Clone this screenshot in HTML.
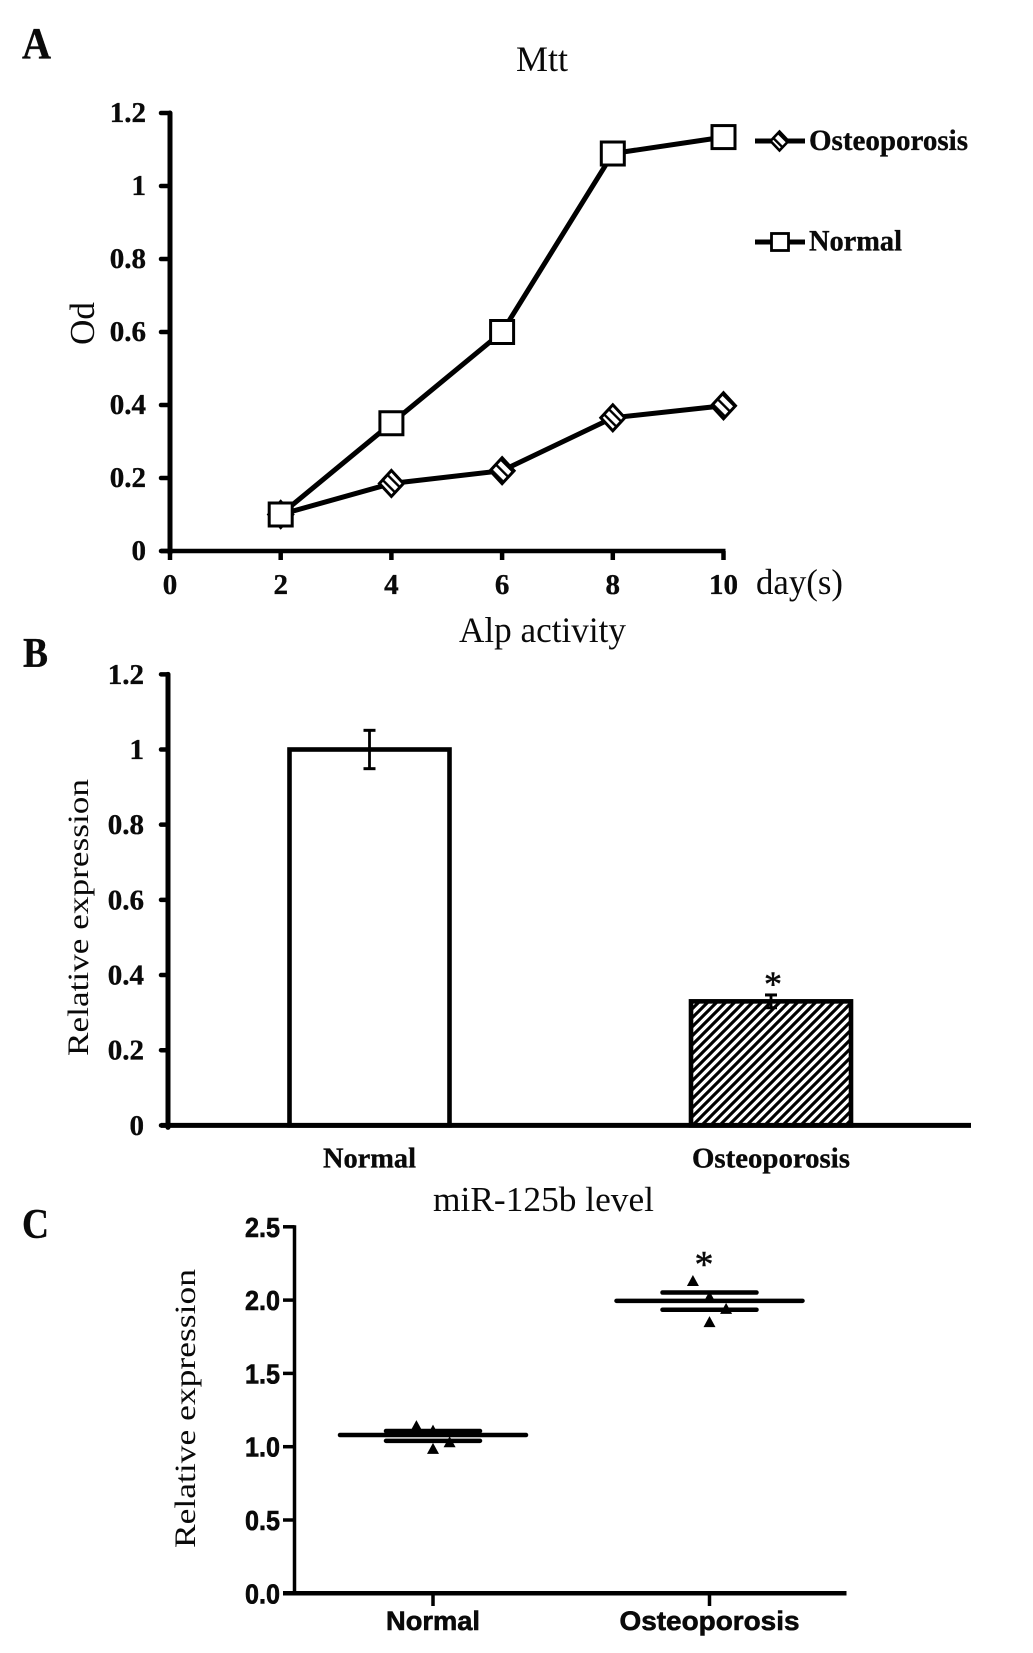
<!DOCTYPE html>
<html lang="en">
<head>
<meta charset="utf-8">
<title>Mtt, Alp activity and miR-125b level charts</title>
<style>
  html, body { margin: 0; padding: 0; background: #fff; }
  svg { display: block; }
  .serif { font-family: "Liberation Serif", serif; fill: #0a0a0a; }
  .sans { font-family: "Liberation Sans", sans-serif; fill: #0a0a0a; font-weight: 700; stroke: #0a0a0a; stroke-width: 0.6; }
  .bold { font-weight: 700; stroke: #0a0a0a; stroke-width: 0.35; }
</style>
</head>
<body>
<svg id="figure" xmlns="http://www.w3.org/2000/svg" width="1033" height="1653" viewBox="0 0 1033 1653">
  <defs>
    <pattern id="bar-hatch" patternUnits="userSpaceOnUse" width="9" height="9">
      <path d="M-2,2 L2,-2 M0,9 L9,0 M7,11 L11,7" stroke="#000" stroke-width="3.1" fill="none"/>
    </pattern>
    <pattern id="diamond-hatch" patternUnits="userSpaceOnUse" width="7" height="7" patternTransform="rotate(-45)">
      <rect width="7" height="7" fill="#fff"/>
      <rect width="2.4" height="7" fill="#000"/>
    </pattern>
  </defs>
  <rect width="1033" height="1653" fill="#fff"/>

  <g id="panel-a">
    <text class="serif bold" x="22" y="58" font-size="44" textLength="29" lengthAdjust="spacingAndGlyphs">A</text>
    <text class="serif" x="516" y="71" font-size="36" textLength="52" lengthAdjust="spacingAndGlyphs">Mtt</text>
    <text class="serif" transform="translate(94,345) rotate(-90)" font-size="35" textLength="43" lengthAdjust="spacingAndGlyphs">Od</text>
    <text class="serif" x="756" y="594" font-size="36" textLength="87" lengthAdjust="spacingAndGlyphs">day(s)</text>
    <g>
      <line x1="755" x2="805" y1="141" y2="141" stroke="#000" stroke-width="5"/>
      <polygon points="779.5,131.5 788.5,141 779.5,150.5 770.5,141" fill="url(#diamond-hatch)" stroke="#000" stroke-width="2.6"/>
      <text class="serif bold" x="809" y="150" font-size="30" textLength="159" lengthAdjust="spacingAndGlyphs">Osteoporosis</text>
    </g>
    <g>
      <line x1="755" x2="805" y1="242" y2="242" stroke="#000" stroke-width="5"/>
      <rect x="771.5" y="233.5" width="17" height="17" fill="#fff" stroke="#000" stroke-width="2.8"/>
      <text class="serif bold" x="809" y="250.5" font-size="30" textLength="93" lengthAdjust="spacingAndGlyphs">Normal</text>
    </g>
  </g>

  <g id="panel-b">
    <text class="serif bold" x="23" y="667" font-size="42" textLength="25" lengthAdjust="spacingAndGlyphs">B</text>
    <text class="serif" x="459" y="642" font-size="36" textLength="167" lengthAdjust="spacingAndGlyphs">Alp activity</text>
    <text class="serif" transform="translate(88,1056) rotate(-90)" font-size="30" textLength="277" lengthAdjust="spacingAndGlyphs">Relative expression</text>
    <text class="serif" x="773" y="996" font-size="36" text-anchor="middle" stroke="#0a0a0a" stroke-width="0.5">*</text>
  </g>

  <g id="panel-c">
    <text class="serif bold" x="22" y="1238" font-size="42" textLength="27" lengthAdjust="spacingAndGlyphs">C</text>
    <text class="serif" x="433" y="1211" font-size="35" textLength="221" lengthAdjust="spacingAndGlyphs">miR-125b level</text>
    <text class="serif" transform="translate(195,1548) rotate(-90)" font-size="30" textLength="279" lengthAdjust="spacingAndGlyphs">Relative expression</text>
    <text class="serif" x="704" y="1277" font-size="38" text-anchor="middle" stroke="#0a0a0a" stroke-width="0.5">*</text>
  </g>
</svg>

<script>
// Chart A data
var aDays = [2, 4, 6, 8, 10];
var aNormal = [0.10, 0.35, 0.60, 1.089, 1.134];
var aOsteoporosis = [0.10, 0.185, 0.22, 0.365, 0.398];
var aXTickLabels = ['0', '2', '4', '6', '8', '10'];
var aXTicks = [0, 2, 4, 6, 8, 10];
var aYTicks = [0, 0.2, 0.4, 0.6, 0.8, 1, 1.2];

// Chart B data
var bCategories = ['Normal', 'Osteoporosis'];
var bValues = [1.0, 0.33];
var bErrors = [0.051, 0.017];
var bYTicks = [0, 0.2, 0.4, 0.6, 0.8, 1, 1.2];

// Chart C data
var cCategories = ['Normal', 'Osteoporosis'];
var cMeans = [1.08, 1.995];
var cSemHigh = [1.107, 2.052];
var cSemLow = [1.04, 1.934];
var cNormalPoints = [1.14, 1.11, 1.03, 0.985];
var cOsteoporosisPoints = [2.13, 2.02, 1.94, 1.85];
var cPointSpread = [-0.06, 0, 0.06, 0];
var cYTicks = [0, 0.5, 1.0, 1.5, 2.0, 2.5];

var NS = 'http://www.w3.org/2000/svg';

function make(tag, parent, attrs) {
  var el = document.createElementNS(NS, tag);
  for (var k in attrs) { el.setAttribute(k, attrs[k]); }
  parent.appendChild(el);
  return el;
}

// ---------- Chart A ----------
var panelA = document.getElementById('panel-a');
function ax(v) { return 170 + v * 55.35; }
function ay(v) { return 551 - v * 365; }

aYTicks.forEach(function (t) {
  var tick = make('line', panelA, { x1: 161, x2: 170, y1: ay(t), y2: ay(t), stroke: '#000', 'stroke-width': 4.5, 'stroke-linecap': 'round' });
  
  
  var label = make('text', panelA, { x: 146, y: ay(t) + 9, 'text-anchor': 'end', 'font-size': 29, 'class': 'serif bold' });
  label.textContent = String(t);
  
  
});

aXTicks.forEach(function (t, i) {
  var tick = make('line', panelA, { x1: ax(t), x2: ax(t), y1: 551, y2: 560, stroke: '#000', 'stroke-width': 4.5 });
  
  
  var label = make('text', panelA, { x: ax(t), y: 594, 'text-anchor': 'middle', 'font-size': 29, 'class': 'serif bold' });
  label.textContent = aXTickLabels[i];
  
  
});

var aAxisY = make('line', panelA, { x1: 170, x2: 170, y1: ay(1.2), y2: ay(0) + 2, stroke: '#000', 'stroke-width': 5, 'stroke-linecap': 'round' });


var aAxisX = make('line', panelA, { x1: 161, x2: ax(10) + 2, y1: 551, y2: 551, stroke: '#000', 'stroke-width': 4.5 });



function seriesPoints(values) {
  return values.map(function (v, i) { return ax(aDays[i]) + ',' + ay(v); }).join(' ');
}

var aNormalLine = make('polyline', panelA, { points: seriesPoints(aNormal), fill: 'none', stroke: '#000', 'stroke-width': 5 });


var aOsteoLine = make('polyline', panelA, { points: seriesPoints(aOsteoporosis), fill: 'none', stroke: '#000', 'stroke-width': 5 });



aOsteoporosis.forEach(function (v, i) {
  var cx = ax(aDays[i]);
  var cy = ay(v);
  var rx = 12;
  var ry = 13;
  var pts = cx + ',' + (cy - ry) + ' ' + (cx + rx) + ',' + cy + ' ' + cx + ',' + (cy + ry) + ' ' + (cx - rx) + ',' + cy;
  var d = make('polygon', panelA, { points: pts, fill: 'url(#diamond-hatch)', stroke: '#000', 'stroke-width': 3 });
  
  
});

aNormal.forEach(function (v, i) {
  var s = 23;
  var r = make('rect', panelA, { x: ax(aDays[i]) - s / 2, y: ay(v) - s / 2, width: s, height: s, fill: '#fff', stroke: '#000', 'stroke-width': 3 });
  
  
});

// ---------- Chart B ----------
var panelB = document.getElementById('panel-b');
function by(v) { return 1125.4 - v * 375.9; }
function bx(i) { return 369.5 + i * 401.5; }
var bBarWidth = 160;

bValues.forEach(function (v, i) {
  var bar = make('rect', panelB, { x: bx(i) - bBarWidth / 2, y: by(v), width: bBarWidth, height: by(0) - by(v), fill: i === 0 ? '#fff' : 'url(#bar-hatch)', stroke: '#000', 'stroke-width': 4.6 });
  
  
  var hi = by(v + bErrors[i]);
  var lo = by(v - bErrors[i]);
  var stem = make('line', panelB, { x1: bx(i), x2: bx(i), y1: hi, y2: lo, stroke: '#000', 'stroke-width': 2.8 });
  
  
  var capTop = make('line', panelB, { x1: bx(i) - 6, x2: bx(i) + 6, y1: hi, y2: hi, stroke: '#000', 'stroke-width': 3 });
  
  
  var capBottom = make('line', panelB, { x1: bx(i) - 6, x2: bx(i) + 6, y1: lo, y2: lo, stroke: '#000', 'stroke-width': 3 });
  
  
  var label = make('text', panelB, { x: bx(i), y: 1167.5, 'text-anchor': 'middle', 'font-size': 29, 'class': 'serif bold', textLength: i === 0 ? 93 : 158, lengthAdjust: 'spacingAndGlyphs' });
  label.textContent = bCategories[i];
  
  
});

var bAxisY = make('line', panelB, { x1: 168, x2: 168, y1: by(1.2), y2: by(0) + 2, stroke: '#000', 'stroke-width': 5, 'stroke-linecap': 'round' });


var bAxisX = make('line', panelB, { x1: 161, x2: 971, y1: by(0), y2: by(0), stroke: '#000', 'stroke-width': 5 });



bYTicks.forEach(function (t) {
  var tick = make('line', panelB, { x1: 161, x2: 168, y1: by(t), y2: by(t), stroke: '#000', 'stroke-width': 4.5, 'stroke-linecap': 'round' });
  
  
  var label = make('text', panelB, { x: 144, y: by(t) + 9.5, 'text-anchor': 'end', 'font-size': 29, 'class': 'serif bold' });
  label.textContent = String(t);
  
  
});

// ---------- Chart C ----------
var panelC = document.getElementById('panel-c');
function cy(v) { return 1593.3 - v * 146.6; }
function cx(pos) { return 433 + pos * 276.5; }

var cAxisY = make('line', panelC, { x1: 294.5, x2: 294.5, y1: cy(2.5) - 1.5, y2: cy(0) + 2, stroke: '#000', 'stroke-width': 3.5 });


var cAxisX = make('line', panelC, { x1: 283, x2: 846.5, y1: cy(0), y2: cy(0), stroke: '#000', 'stroke-width': 4.5 });



cYTicks.forEach(function (t) {
  var tick = make('line', panelC, { x1: 283, x2: 294.5, y1: cy(t), y2: cy(t), stroke: '#000', 'stroke-width': 3.5 });
  
  
  var label = make('text', panelC, { x: 245, y: cy(t) + 10, 'font-size': 28, 'class': 'sans', textLength: 35, lengthAdjust: 'spacingAndGlyphs' });
  label.textContent = t.toFixed(1);
  
  
});

cCategories.forEach(function (name, i) {
  var tick = make('line', panelC, { x1: cx(i), x2: cx(i), y1: cy(0), y2: 1606, stroke: '#000', 'stroke-width': 3.5 });
  
  
  var label = make('text', panelC, { x: cx(i), y: 1630, 'text-anchor': 'middle', 'font-size': 27, 'class': 'sans', textLength: i === 0 ? 94 : 180, lengthAdjust: 'spacingAndGlyphs' });
  label.textContent = name;
  
  

  var points = i === 0 ? cNormalPoints : cOsteoporosisPoints;
  points.forEach(function (v, j) {
    var px = cx(i + cPointSpread[j]);
    var py = cy(v);
    var tri = make('polygon', panelC, { points: px + ',' + (py - 6) + ' ' + (px + 6) + ',' + (py + 5) + ' ' + (px - 6) + ',' + (py + 5), fill: '#000' });
    
    
  });

  var mean = make('line', panelC, { x1: cx(i) - 93, x2: cx(i) + 93, y1: cy(cMeans[i]), y2: cy(cMeans[i]), stroke: '#000', 'stroke-width': 4.5, 'stroke-linecap': 'round' });
  
  
  var semHigh = make('line', panelC, { x1: cx(i) - 47, x2: cx(i) + 47, y1: cy(cSemHigh[i]), y2: cy(cSemHigh[i]), stroke: '#000', 'stroke-width': 4.5, 'stroke-linecap': 'round' });
  
  
  var semLow = make('line', panelC, { x1: cx(i) - 47, x2: cx(i) + 47, y1: cy(cSemLow[i]), y2: cy(cSemLow[i]), stroke: '#000', 'stroke-width': 4.5, 'stroke-linecap': 'round' });
  
  
});
</script>
</body>
</html>
